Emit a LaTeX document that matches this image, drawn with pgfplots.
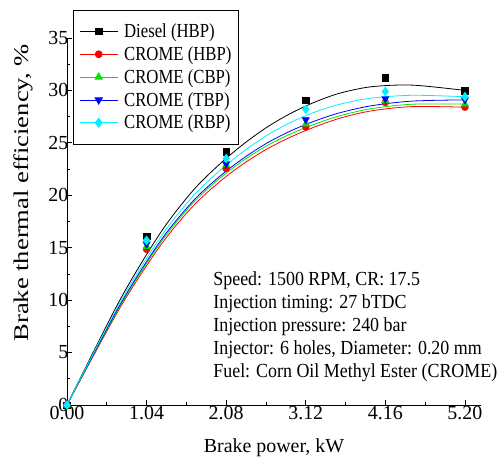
\documentclass[border=0pt]{standalone}
\usepackage{pgfplots}
\pgfplotsset{compat=1.18}
\usepackage{fontspec}
\setmainfont{Liberation Serif}
\newcommand\sq[2][0.85]{\scalebox{#1}[1]{#2}}
\definecolor{cgreen}{RGB}{0,230,0}
\definecolor{ccyan}{RGB}{0,240,255}
\begin{document}
\begin{tikzpicture}
\begin{axis}[
  name=ax, scale only axis, width=414bp, height=367bp,
  xmin=0, xmax=5.41, ymin=0, ymax=35,
  axis lines=left, axis line style={-, line width=0.8bp},
  xtick={0,1.04,2.08,3.12,4.16,5.2},
  xticklabels={0.00,1.04,2.08,3.12,4.16,5.20},
  ytick={0,5,...,35},
  minor x tick num=1, minor y tick num=1,
  tick align=inside, major tick length=5bp, minor tick length=3bp,
  tick style={black, line width=0.8bp},
  /pgf/number format/assume math mode=true,
  ticklabel style={font=\fontsize{20}{22}\selectfont, inner sep=1bp},
  yticklabel style={xshift=2.5bp},
  xlabel={Brake power, kW},
  xlabel style={at={(axis description cs:0.5,0)}, anchor=north, yshift=-33bp, inner sep=0pt, font=\fontsize{20}{22}\selectfont},
  ylabel={\scalebox{1.27}[1]{Brake thermal efficiency, \%}},
  ylabel style={at={(axis description cs:-0.106,0.578)}, anchor=center, inner sep=0pt, font=\fontsize{21}{23}\selectfont},
  clip=false,
  legend cell align=left,
  legend style={at={(axis description cs:0.0145,1.0763)}, anchor=north west,
    draw=black, line width=0.6bp, fill=white, font=\fontsize{20}{22}\selectfont,
    inner xsep=6bp, inner ysep=12.5bp, row sep=5.5bp,
    nodes={inner sep=1bp},
    /tikz/every odd column/.append style={column sep=5bp}},
  legend image code/.code={\draw[mark repeat=2,mark phase=2,#1] plot coordinates {(0bp,0bp) (19bp,0bp) (38bp,0bp)};},
]
% fitted (B-spline) curves
\addplot[black, line width=0.8bp, smooth, forget plot] coordinates {
(0,0) (0.6893,9.981) (1.2242,16.454) (1.6453,20.440) (1.9933,22.959) (2.3048,24.876) (2.6,26.430) (2.8952,27.706) (3.2067,28.788) (3.5547,29.717) (3.9758,30.351) (4.5107,30.507) (5.2,30.0)};
\addplot[red, line width=0.8bp, smooth, forget plot] coordinates {
(0,0) (0.6893,9.227) (1.2242,15.242) (1.6453,18.956) (1.9933,21.283) (2.3048,23.002) (2.6,24.358) (2.8952,25.463) (3.2067,26.429) (3.5547,27.326) (3.9758,28.051) (4.5107,28.457) (5.2,28.4)};
\addplot[cgreen, line width=0.8bp, smooth, forget plot] coordinates {
(0,0) (0.6893,9.380) (1.2242,15.488) (1.6453,19.252) (1.9933,21.600) (2.3048,23.325) (2.6,24.675) (2.8952,25.763) (3.2067,26.700) (3.5547,27.561) (3.9758,28.263) (4.5107,28.683) (5.2,28.7)};
\addplot[blue, line width=0.8bp, smooth, forget plot] coordinates {
(0,0) (0.6893,9.513) (1.2242,15.670) (1.6453,19.440) (1.9933,21.788) (2.3048,23.535) (2.6,24.923) (2.8952,26.047) (3.2067,27.000) (3.5547,27.848) (3.9758,28.538) (4.5107,28.983) (5.2,29.1)};
\addplot[ccyan, line width=0.8bp, smooth, forget plot] coordinates {
(0,0) (0.6893,9.729) (1.2242,16.029) (1.6453,19.898) (1.9933,22.333) (2.3048,24.177) (2.6,25.659) (2.8952,26.856) (3.2067,27.842) (3.5547,28.665) (3.9758,29.262) (4.5107,29.537) (5.2,29.4)};
% measured points
\addplot[only marks, mark=square*, mark size=3.3bp, black, forget plot] coordinates {
(0,0) (1.04,16.1) (2.08,24.15) (3.12,29.08) (4.16,31.2) (5.2,30.0)};
\addplot[only marks, mark=*, mark size=3.5bp, red, forget plot] coordinates {
(0,0) (1.04,14.85) (2.08,22.55) (3.12,26.5) (4.16,28.85) (5.2,28.4)};
\addplot[only marks, mark=triangle*, mark size=4.2bp, cgreen, forget plot] coordinates {
(0,0) (1.04,15.1) (2.08,22.9) (3.12,26.8) (4.16,29.0) (5.2,28.7)};
\addplot[only marks, mark=triangle*, mark options={rotate=180}, mark size=4.2bp, blue, forget plot] coordinates {
(0,0) (1.04,15.35) (2.08,23.0) (3.12,27.2) (4.16,29.2) (5.2,29.1)};
\addplot[only marks, mark=diamond*, mark size=4.5bp, ccyan, forget plot] coordinates {
(0,0) (1.04,15.7) (2.08,23.5) (3.12,28.2) (4.16,29.9) (5.2,29.4)};
% legend
\addlegendimage{black, line width=0.8bp, mark=square*, mark size=3.3bp}
\addlegendentry{\sq[0.84]{Diesel (HBP)}}
\addlegendimage{red, line width=0.8bp, mark=*, mark size=3.5bp}
\addlegendentry{\sq[0.84]{CROME (HBP)}}
\addlegendimage{cgreen, line width=0.8bp, mark=triangle*, mark size=4.2bp}
\addlegendentry{\sq[0.84]{CROME (CBP)}}
\addlegendimage{blue, line width=0.8bp, mark=triangle*, mark options={rotate=180}, mark size=4.2bp}
\addlegendentry{\sq[0.84]{CROME (TBP)}}
\addlegendimage{ccyan, line width=0.8bp, mark=diamond*, mark size=4.5bp}
\addlegendentry{\sq[0.84]{CROME (RBP)}}
\node[anchor=north west, inner sep=0pt, align=left, font=\fontsize{20}{23.2}\selectfont] at (axis cs:1.91,12.75)
 {\sq[0.9]{Speed: 1500 RPM, CR: 17.5}\\
  \sq[0.9]{Injection timing: 27 bTDC}\\
  \sq[0.9]{Injection pressure: 240 bar}\\
  \sq[0.9]{Injector: 6 holes, Diameter: 0.20 mm}\\
  \sq[0.9]{Fuel: Corn Oil Methyl Ester (CROME)}};
\end{axis}
\pgfresetboundingbox
\path[use as bounding box] ([shift={(-67bp,-54bp)}]ax.south west) rectangle ([shift={(433bp,405bp)}]ax.south west);
\end{tikzpicture}
\end{document}
